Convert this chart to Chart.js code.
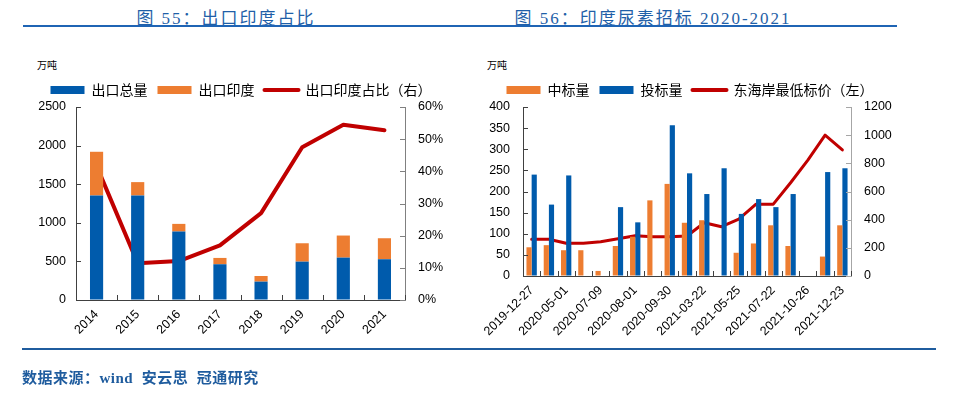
<!DOCTYPE html>
<html>
<head>
<meta charset="utf-8">
<script src="https://cdn.jsdelivr.net/npm/chart.js@4.4.1/dist/chart.umd.min.js"></script>
<style>
  html, body { margin: 0; padding: 0; background: #fff; }
  body { width: 956px; height: 394px; position: relative; overflow: hidden; font-family: "Noto Sans CJK SC", sans-serif; }
  .title { position: absolute; top: 4px; font-family: "Liberation Serif", "Noto Sans CJK SC", serif; font-size: 17px; color: #1f5fa8; letter-spacing: 2px; white-space: nowrap; transform: translateX(-50%); }
  .rule { position: absolute; height: 2px; background: #1f64b4; }
  .unit { position: absolute; top: 57px; font-size: 10px; color: #000; }
  .src { position: absolute; left: 22px; top: 366px; font-family: "Liberation Serif", "Noto Sans CJK SC", serif; font-size: 15px; font-weight: bold; color: #1f5c9e; letter-spacing: 0.5px; white-space: pre; }
  canvas { position: absolute; top: 0; }
</style>
</head>
<body>
<div class="title" style="left:226px">图 55：出口印度占比</div>
<div class="title" style="left:653px">图 56：印度尿素招标 2020-2021</div>
<div class="rule" style="left:23px; top:25px; width:874px"></div>
<div class="unit" style="left:37px">万吨</div>
<div class="unit" style="left:487px">万吨</div>
<canvas id="c1" width="482" height="394" style="left:0"></canvas>
<canvas id="c2" width="420" height="394" style="left:480px"></canvas>
<div class="rule" style="left:22px; top:348px; width:914px; height:2px; background:#1f5c9e"></div>
<div class="src">数据来源：wind  安云思  冠通研究</div>

<script>
// ---- data: 图55 ----
const years = ['2014', '2015', '2016', '2017', '2018', '2019', '2020', '2021'];
const exportTotal = [1354, 1354, 887, 463, 238, 497, 549, 528];   // 万吨
const exportIndia = [566, 173, 99, 82, 73, 238, 286, 272];        // 万吨 (stacked on top)
const indiaShare = [0.417, 0.114, 0.121, 0.170, 0.270, 0.475, 0.545, 0.528];

// ---- data: 图56 ----
const tenderDates = ['2019-12-27', '', '2020-05-01', '', '2020-07-09', '', '2020-08-01', '',
  '2020-09-30', '', '2021-03-22', '', '2021-05-25', '', '2021-07-22', '', '2021-10-26', '', '2021-12-23'];
const awarded = [68, 73, 61, 61, 12, 71, 93, 179, 218, 126, 132, 0, 55, 77, 120, 71, 0, 46, 120];
const offered = [240, 169, 238, 0, 0, 163, 127, 0, 357, 243, 194, 255, 147, 182, 163, 194, 0, 246, 255];
const eastCoastPrice = [261, 261, 232, 232, 243, 264, 286, 279, 279, 284, 378, 350, 404, 510, 510, 662, 823, 1000, 895];

const BLUE = '#005bac';
const ORANGE = '#ed7d31';
const RED = '#c00000';
const TICK_FONT = { family: '"Liberation Sans", Arial, sans-serif', size: 12.5 };

// inward tick marks drawn against the library's scales
const innerTicks = {
  id: 'innerTicks',
  afterDraw(chart, args, opts) {
    const ctx = chart.ctx;
    const a = chart.chartArea;
    (opts.specs || []).forEach(s => {
      const sc = chart.scales[s.id];
      ctx.save();
      ctx.strokeStyle = s.color;
      ctx.lineWidth = 1;
      ctx.beginPath();
      if (s.id === 'x') {
        const n = sc.ticks.length;
        for (let i = 0; i <= n; i++) {
          const px = Math.round(sc.left + (sc.right - sc.left) * i / n) + 0.5;
          ctx.moveTo(px, a.bottom);
          ctx.lineTo(px, a.bottom - s.len);
        }
      } else {
        const left = sc.position === 'left';
        const x0 = left ? a.left : a.right;
        sc.ticks.forEach(t => {
          const py = Math.round(sc.getPixelForValue(t.value)) + 0.5;
          ctx.moveTo(x0, py);
          ctx.lineTo(x0 + (left ? s.len : -s.len), py);
        });
      }
      ctx.stroke();
      ctx.restore();
    });
  }
};

function legendOpts() {
  return {
    position: 'top',
    labels: {
      usePointStyle: true,
      pointStyleWidth: 34,
      boxHeight: 8,
      padding: 10,
      color: '#000',
      font: { family: '"Noto Sans CJK SC", sans-serif', size: 14 },
      generateLabels(chart) {
        return chart.data.datasets.map((d, i) => {
          const isLine = d.type === 'line';
          return {
            text: d.label,
            datasetIndex: i,
            fillStyle: isLine ? d.borderColor : d.backgroundColor,
            strokeStyle: isLine ? d.borderColor : d.backgroundColor,
            lineWidth: isLine ? 4 : 0,
            lineCap: 'round',
            pointStyle: isLine ? 'line' : 'rect',
            hidden: false
          };
        });
      }
    }
  };
}

function axisStyle(color) {
  return {
    grid: { drawOnChartArea: false, drawTicks: false, color: color },
    border: { color: color, width: 1 }
  };
}

const plain = v => String(v);

// 图55
new Chart(document.getElementById('c1'), {
  data: {
    labels: years,
    datasets: [
      { type: 'bar', label: '出口总量', data: exportTotal, backgroundColor: BLUE, stack: 's', yAxisID: 'y', barPercentage: 0.32, categoryPercentage: 1 },
      { type: 'bar', label: '出口印度', data: exportIndia, backgroundColor: ORANGE, stack: 's', yAxisID: 'y', barPercentage: 0.32, categoryPercentage: 1 },
      { type: 'line', label: '出口印度占比（右）', data: indiaShare, borderColor: RED, backgroundColor: RED, borderWidth: 4,
        pointRadius: 0, tension: 0, yAxisID: 'y1', borderJoinStyle: 'round', borderCapStyle: 'round' }
    ]
  },
  options: {
    responsive: false,
    animation: false,
    layout: { padding: { top: 58, left: 0, right: 0, bottom: 0 } },
    plugins: {
      legend: legendOpts(),
      tooltip: { enabled: false },
      innerTicks: { specs: [ { id: 'x', len: 5, color: '#404040' }, { id: 'y', len: 5, color: '#404040' }, { id: 'y1', len: 5, color: '#808080' } ] }
    },
    scales: {
      x: Object.assign(axisStyle('#404040'), {
        stacked: true,
        ticks: { color: '#000', font: TICK_FONT, minRotation: 45, maxRotation: 45, padding: 7, autoSkip: false },
        afterFit(s) { s.height = 94; s.paddingLeft = 0; s.paddingRight = 0; }
      }),
      y: Object.assign(axisStyle('#404040'), {
        stacked: true, min: 0, max: 2500,
        ticks: { stepSize: 500, color: '#000', font: TICK_FONT, padding: 10, callback: plain },
        afterFit(s) { s.width = 76; s.paddingTop = 107; }
      }),
      y1: Object.assign(axisStyle('#808080'), {
        position: 'right', min: 0, max: 0.6,
        ticks: { stepSize: 0.1, color: '#000', font: TICK_FONT, padding: 13, callback: v => Math.round(v * 100) + '%' },
        afterFit(s) { s.width = 77; }
      })
    }
  },
  plugins: [innerTicks]
});

// 图56
new Chart(document.getElementById('c2'), {
  data: {
    labels: tenderDates,
    datasets: [
      { type: 'bar', label: '中标量', data: awarded, backgroundColor: ORANGE, yAxisID: 'y', barPercentage: 1, categoryPercentage: 0.6 },
      { type: 'bar', label: '投标量', data: offered, backgroundColor: BLUE, yAxisID: 'y', barPercentage: 1, categoryPercentage: 0.6 },
      { type: 'line', label: '东海岸最低标价（左）', data: eastCoastPrice, borderColor: RED, backgroundColor: RED, borderWidth: 3,
        pointRadius: 0, tension: 0, yAxisID: 'y1', borderJoinStyle: 'round', borderCapStyle: 'round' }
    ]
  },
  options: {
    responsive: false,
    animation: false,
    layout: { padding: { top: 58, left: 0, right: 0, bottom: 0 } },
    plugins: {
      legend: legendOpts(),
      tooltip: { enabled: false },
      innerTicks: { specs: [ { id: 'x', len: 5, color: '#404040' }, { id: 'y', len: 5, color: '#404040' }, { id: 'y1', len: 5, color: '#a6a6a6' } ] }
    },
    scales: {
      x: Object.assign(axisStyle('#404040'), {
        ticks: { color: '#000', font: TICK_FONT, minRotation: 45, maxRotation: 45, padding: 7, autoSkip: false },
        afterFit(s) { s.height = 118; s.paddingLeft = 0; s.paddingRight = 0; }
      }),
      y: Object.assign(axisStyle('#404040'), {
        min: 0, max: 400,
        ticks: { stepSize: 50, color: '#000', font: TICK_FONT, padding: 13, callback: plain },
        afterFit(s) { s.width = 43; s.paddingTop = 107; }
      }),
      y1: Object.assign(axisStyle('#a6a6a6'), {
        position: 'right', min: 0, max: 1200,
        ticks: { stepSize: 200, color: '#000', font: TICK_FONT, padding: 13, callback: plain },
        afterFit(s) { s.width = 49; }
      })
    }
  },
  plugins: [innerTicks]
});
</script>
</body>
</html>
